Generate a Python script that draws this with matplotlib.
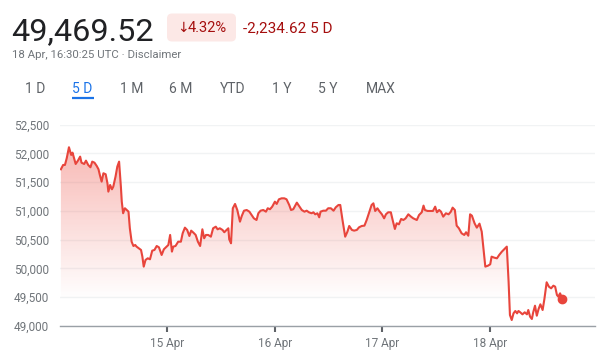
import numpy as np
import matplotlib.pyplot as plt
from matplotlib.patches import FancyBboxPatch, Polygon

plt.rcParams['font.family'] = ['Roboto', 'DejaVu Sans']

# hours since 14 Apr 00:00 UTC
hours = [
    0.2, 0.7, 1.1, 1.5, 2.0, 2.5, 2.8, 3.5, 4.0, 4.5, 4.8, 5.4, 5.8, 6.3, 6.8,
    7.2, 7.7, 8.2, 8.6, 8.9, 9.3, 9.7, 10.2, 10.6, 10.8, 11.2, 11.6, 11.9, 12.4,
    12.8, 13.2, 13.6, 13.8, 14.1, 14.5, 14.9, 15.3, 15.6, 16.0, 16.4, 16.8, 17.1,
    17.6, 18.1, 18.4, 18.7, 19.1, 19.6, 20.1, 20.6, 21.1, 21.6, 22.1, 22.7, 23.2,
    23.8, 24.2, 24.6, 25.0, 25.3, 25.8, 26.4, 27.0, 27.4, 27.9, 28.4, 28.9, 29.3,
    29.8, 30.3, 30.8, 31.3, 31.8, 32.2, 32.6, 33.1, 33.7, 34.2, 34.8, 35.2, 35.7,
    36.3, 36.7, 37.2, 37.6, 37.8, 38.2, 38.6, 39.1, 39.6, 40.2, 40.6, 41.1, 41.7,
    42.3, 42.8, 43.3, 43.9, 44.3, 44.8, 45.4, 46.0, 46.4, 46.9, 47.4, 48.0, 48.4,
    48.9, 49.5, 50.1, 50.6, 51.2, 51.6, 52.1, 52.9, 53.4, 54.0, 54.6, 55.1, 55.6,
    56.2, 56.6, 57.0, 57.5, 57.9, 58.2, 58.8, 59.4, 59.9, 60.5, 61.1, 61.6, 62.2,
    62.6, 63.1, 63.7, 64.2, 64.6, 65.2, 65.7, 66.3, 66.8, 67.4, 68.0, 68.5, 69.0,
    69.6, 70.0, 70.4, 70.9, 71.3, 71.9, 72.4, 72.8, 73.3, 73.9, 74.3, 74.8, 75.2,
    75.7, 76.2, 76.7, 77.2, 77.8, 78.4, 78.9, 79.7, 80.2, 80.8, 81.2, 81.5, 82.1,
    82.7, 83.3, 83.8, 84.2, 84.7, 85.1, 85.6, 86.2, 86.8, 87.3, 87.7, 88.2, 88.6,
    89.1, 89.7, 90.3, 90.7, 91.2, 91.6, 92.0, 92.6, 93.1, 93.7, 94.2, 95.0, 95.6,
    96.1, 96.4, 97.0, 97.6, 98.1, 98.7, 99.3, 99.8, 100.2, 100.5, 100.9, 101.3,
    101.7, 102.1, 102.4, 102.8, 103.3, 103.8, 104.3, 104.6, 105.0, 105.4, 105.7,
    106.1, 106.5, 106.9, 107.3, 107.8, 108.2, 108.7, 109.2, 109.7, 110.2, 110.6,
    111.0, 111.3, 111.7, 112.2,
]
prices = [
    51725, 51800, 51800, 51916, 52108, 51974, 52014, 51817, 51875, 51945, 51840,
    51817, 51875, 51800, 51760, 51858, 51840, 51783, 51725, 51626, 51510, 51656,
    51638, 51481, 51336, 51452, 51377, 51423, 51597, 51771, 51858, 51423, 51162,
    50960, 51047, 51017, 50988, 50699, 50466, 50391, 50409, 50380, 50351, 50322,
    50206, 50032, 50148, 50177, 50160, 50310, 50322, 50391, 50368, 50235, 50334,
    50380, 50409, 50583, 50293, 50380, 50391, 50466, 50466, 50612, 50710, 50670,
    50565, 50658, 50623, 50583, 50466, 50391, 50681, 50525, 50583, 50583, 50553,
    50699, 50727, 50681, 50699, 50670, 50630, 50670, 50699, 50507, 50438, 51047,
    51122, 51017, 50814, 50913, 51005, 51017, 50988, 50930, 50872, 50843, 50960,
    51005, 51017, 50988, 51047, 51030, 51075, 51162, 51122, 51203, 51220, 51220,
    51203, 51104, 51017, 51030, 51145, 51087, 51017, 50988, 51005, 50977, 50960,
    50977, 50942, 50960, 50890, 50988, 51005, 51005, 51047, 51047, 51005, 51064,
    51104, 51104, 50843, 50553, 50640, 50739, 50670, 50658, 50670, 50716, 50739,
    50745, 50843, 50960, 51104, 51133, 51000, 51047, 51000, 50942, 50872, 50942,
    50977, 50977, 50843, 50687, 50786, 50768, 50861, 50843, 50872, 50942, 50901,
    50872, 50843, 50930, 50977, 51093, 51017, 51000, 51000, 51000, 51075, 50977,
    51017, 50988, 50901, 50960, 50942, 50988, 51058, 51017, 50745, 50699, 50612,
    50583, 50630, 50570, 50942, 50919, 50786, 50710, 50780, 50640, 50032, 50049,
    50073, 50206, 50188, 50177, 50235, 50293, 50339, 50380, 49771, 49191, 49104,
    49220, 49261, 49220, 49261, 49238, 49203, 49238, 49203, 49278, 49162, 49122,
    49238, 49353, 49179, 49296, 49377, 49278, 49470, 49760, 49684, 49655, 49701,
    49684, 49539, 49510, 49568, 49469.52,
]

day_ticks = [24, 48, 72, 96]
day_labels = ['15 Apr', '16 Apr', '17 Apr', '18 Apr']
y_ticks = [49000, 49500, 50000, 50500, 51000, 51500, 52000, 52500]
tabs = ['1 D', '5 D', '1 M', '6 M', 'YTD', '1 Y', '5 Y', 'MAX']
tab_x = [35, 82.5, 132, 181, 233, 282, 327.5, 381]

RED = '#e8453c'
DARK_RED = '#a50e0e'
GRAY = '#70757a'

fig = plt.figure(figsize=(6.04, 3.56), dpi=100)

# header drawn in pixel coordinates
hdr = fig.add_axes([0, 0, 1, 1])
hdr.set_xlim(0, 604)
hdr.set_ylim(356, 0)
hdr.axis('off')

hdr.text(11, 40, '49,469.52', fontsize=23.3, color='#202124', va='baseline')
badge = FancyBboxPatch((167, 13.5), 69, 28, boxstyle='round,pad=0,rounding_size=5',
                       fc='#fce8e6', ec='none')
hdr.add_patch(badge)
hdr.text(177, 32, '\u2193', fontsize=10, color=DARK_RED, va='baseline',
         family=['DejaVu Sans'])
hdr.text(188, 32, '4.32%', fontsize=10.5, color=DARK_RED, va='baseline')
hdr.text(243, 32, '-2,234.62 5 D', fontsize=11, color=DARK_RED, va='baseline')
hdr.text(12, 58, '18 Apr, 16:30:25 UTC \u00b7 Disclaimer', fontsize=8.2,
         color=GRAY, va='baseline')

for lab, x in zip(tabs, tab_x):
    col = '#1a73e8' if lab == '5 D' else '#5f6368'
    hdr.text(x, 93, lab, fontsize=10, color=col, ha='center', va='baseline')
hdr.plot([72, 94], [98.3, 98.3], color='#1a73e8', lw=1.6, solid_capstyle='butt')

# main chart
ax = fig.add_axes([60 / 604, 30 / 356, 535 / 604, 201.3 / 356])
ax.set_xlim(0, 119.5)
ax.set_ylim(49000, 52500)

# gradient fill under the line, fading out near 49,500
grad = np.linspace(0, 1, 256)
rgba = np.zeros((256, 1, 4))
rgba[..., 0] = 0.93
rgba[..., 1] = 0.30
rgba[..., 2] = 0.26
rgba[:, 0, 3] = grad * 0.40
img = ax.imshow(rgba, extent=[0, 119.5, 49450, 52150], origin='lower',
                aspect='auto', zorder=1)
verts = [(hours[0], 49000)] + list(zip(hours, prices)) + [(hours[-1], 49000)]
clip = Polygon(verts, closed=True, fc='none', ec='none', transform=ax.transData)
ax.add_patch(clip)
img.set_clip_path(clip)

ax.plot(hours, prices, color=RED, lw=1.5, zorder=3)
ax.plot(hours[-1], prices[-1], 'o', color=RED, ms=6, zorder=4)

ax.set_yticks(y_ticks)
ax.set_yticklabels([f'{v:,}' for v in y_ticks])
ax.set_xticks(day_ticks)
ax.set_xticklabels(day_labels)
ax.grid(axis='y', color='#f1f3f4', lw=1, zorder=0)
ax.set_axisbelow(True)
for s in ['top', 'right', 'left']:
    ax.spines[s].set_visible(False)
ax.spines['bottom'].set_color('#9aa0a6')
ax.spines['bottom'].set_linewidth(1)
ax.tick_params(axis='y', length=0, pad=8, labelsize=8.5, labelcolor=GRAY)
ax.tick_params(axis='x', length=4, width=1.5, color='#5f6368', pad=4,
               labelsize=8.5, labelcolor=GRAY)
ax.patch.set_alpha(0)

fig.savefig('out.png', dpi=100)
